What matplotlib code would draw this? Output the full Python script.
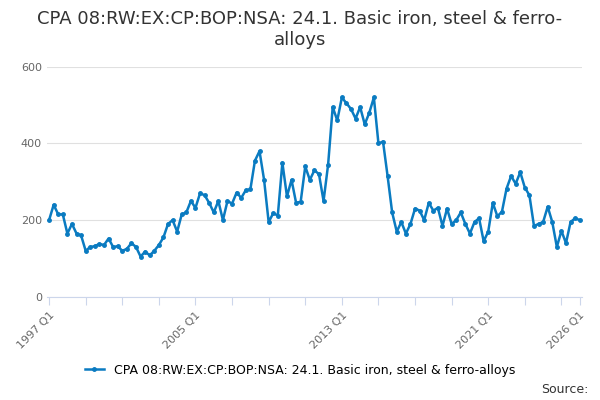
import matplotlib.pyplot as plt

values = [
    200, 240, 215, 215, 165, 190, 165, 160, 120, 130, 132, 138,
    135, 152, 130, 132, 120, 125, 140, 130, 105, 118, 108, 120,
    135, 155, 190, 200, 170, 215, 220, 250, 232, 270, 265, 245,
    220, 250, 200, 250, 243, 272, 258, 278, 280, 355, 380, 305,
    195, 218, 212, 350, 262, 305, 245, 248, 340, 305, 330, 320,
    250, 345, 495, 460, 520, 505, 490, 465, 495, 450, 480, 520,
    400, 405, 315, 220, 170, 195, 165, 190, 230, 225, 200, 245,
    225, 232, 185, 230, 190, 200, 220, 190, 165, 195, 205, 145,
    170, 245, 210, 222, 282, 315, 295, 325, 285, 265, 185, 190,
    195, 235, 195, 130, 172, 140, 195, 205, 200,
]
labels = [f"{1997 + i // 4} Q{i % 4 + 1}" for i in range(len(values))]
label_years = ["1997 Q1", "2005 Q1", "2013 Q1", "2021 Q1", "2026 Q1"]

COLOR = "#0a7bc1"

fig = plt.figure(figsize=(6, 4), dpi=100)
ax = fig.add_axes([0.078, 0.258, 0.892, 0.575])
x = list(range(len(values)))
ax.plot(x, values, color=COLOR, lw=1.8, marker="o", ms=2.5,
        label="CPA 08:RW:EX:CP:BOP:NSA: 24.1. Basic iron, steel & ferro-alloys")

ax.set_ylim(0, 600)
ax.set_yticks([0, 200, 400, 600])
ax.set_xlim(-0.5, len(values) - 0.5)
ax.grid(axis="y", color="#e0e0e0", lw=0.8)
ax.set_axisbelow(True)
for s in ["top", "right", "left"]:
    ax.spines[s].set_visible(False)
ax.spines["bottom"].set_color("#ccd6eb")
ax.tick_params(axis="y", length=0, labelsize=8, labelcolor="#666666")

ticks = list(range(0, len(values), 8)) + [len(values) - 1]
ax.set_xticks(ticks)
ax.set_xticklabels([labels[t] if labels[t] in label_years else "" for t in ticks],
                   rotation=45, ha="right", rotation_mode="anchor",
                   fontsize=8, color="#666666")
ax.tick_params(axis="x", length=6, color="#ccd6eb")

fig.suptitle("CPA 08:RW:EX:CP:BOP:NSA: 24.1. Basic iron, steel & ferro-\nalloys",
             fontsize=13, color="#333333", y=0.975)
fig.legend(loc="lower center", bbox_to_anchor=(0.5, 0.03), frameon=False,
           fontsize=9, handlelength=1.5)
fig.text(0.98, 0.01, "Source:", ha="right", va="bottom", fontsize=9, color="#333333")

fig.savefig("out.png")
